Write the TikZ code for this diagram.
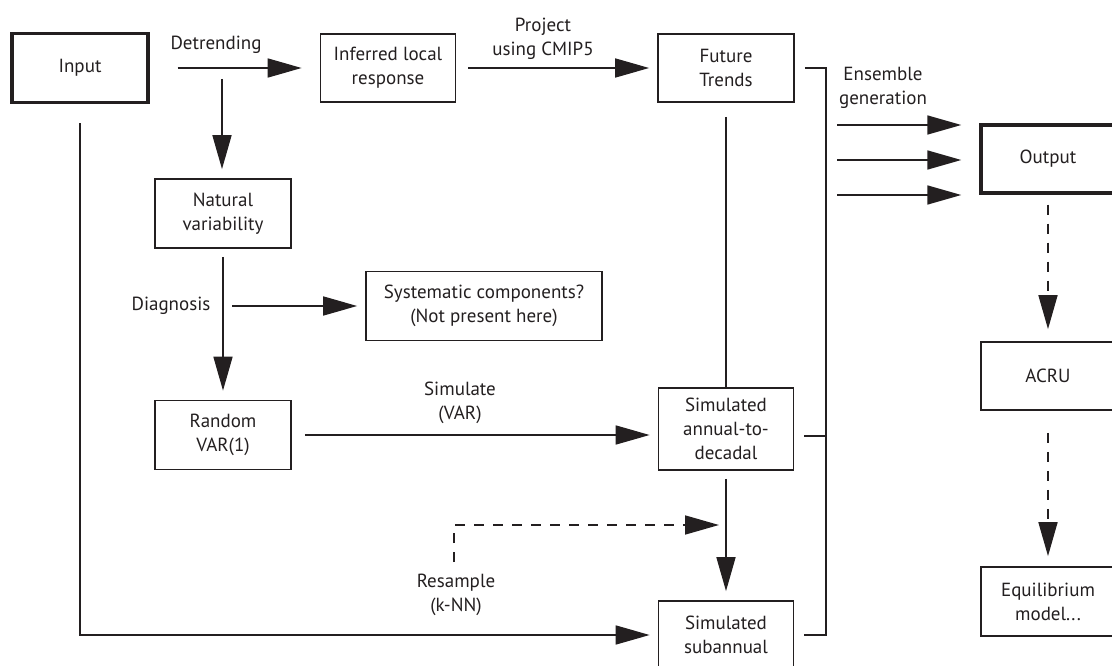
\documentclass[tikz,border=0pt]{standalone}
\usepackage{fontspec}
\setmainfont{PT Sans}
\usetikzlibrary{arrows.meta,calc}
\definecolor{ink}{HTML}{231F20}
\begin{document}
\begin{tikzpicture}[x=1pt,y=-1pt,
  every node/.style={font=\fontsize{19}{24}\selectfont, text=ink},
  box/.style={draw=ink, line width=1.7pt, align=center, inner sep=0pt},
  thickbox/.style={box, line width=3.4pt},
  lbl/.style={align=center, inner sep=0pt},
  plain/.style={draw=ink, line width=1.7pt},
  arr/.style={plain, -{Triangle[length=34pt,width=19pt]}},
  dsh/.style={arr, dash pattern=on 10pt off 9pt}]
\useasboundingbox (0,0) rectangle (1112,666);

% boxes
\node[thickbox, minimum width=136pt, minimum height=69pt] (input) at (80,68) {Input};
\node[box, minimum width=135pt, minimum height=68pt] (inferred) at (388,68) {Inferred local\\response};
\node[box, minimum width=136pt, minimum height=68pt] (future) at (726,68) {Future\\Trends};
\node[box, minimum width=136pt, minimum height=69pt] (natvar) at (223,213.5) {Natural\\variability};
\node[box, minimum width=236pt, minimum height=69pt] (syst) at (484,306) {Systematic components?\\(Not present here)};
\node[box, minimum width=136pt, minimum height=69pt] (random) at (223,435) {Random\\VAR(1)};
\node[box, minimum width=135pt, minimum height=82pt] (annual) at (726,429) {Simulated\\annual-to-\\decadal};
\node[box, minimum width=135pt, minimum height=68pt] (subann) at (726,635) {Simulated\\subannual};
\node[thickbox, minimum width=134pt, minimum height=68pt] (output) at (1048,159) {Output};
\node[box, minimum width=134pt, minimum height=68pt] (acru) at (1048,376) {ACRU};
\node[box, minimum width=134pt, minimum height=69pt] (equil) at (1048,601.5) {Equilibrium\\model...};

% labels
\node[lbl] (lDet) at (216,45) {Detrending};
\node[lbl] (lProj) at (543,39) {Project\\using CMIP5};
\node[lbl] (lDiag) at (171,306) {Diagnosis};
\node[lbl] (lSim) at (460,403) {Simulate\\(VAR)};
\node[lbl] (lRes) at (456,595) {Resample\\(k-NN)};
\node[lbl] (lEns) at (883,88) {Ensemble\\generation};

% free ends
\coordinate (dtop) at (222,79);
\coordinate (diag) at (232,306);
\coordinate (rs) at (454,562);
\coordinate (rc) at (454,525);
\coordinate (rt) at (719,525);
\coordinate (e1) at (837,125);
\coordinate (e2) at (837,160);
\coordinate (e3) at (837,195);

% connectors
\draw[arr, shorten <=28pt, shorten >=18pt] (input) -- (inferred);
\draw[arr, shorten >=9pt] (dtop) -- (dtop |- natvar.north);
\draw[arr, shorten <=12pt, shorten >=8pt] (inferred) -- (future);
\draw[arr, shorten <=8pt, shorten >=9pt] (natvar) -- (random);
\draw[arr, shorten >=8pt] (diag) -- (diag -| syst.west);
\draw[arr, shorten <=13pt, shorten >=8pt] (random) -- (annual.west |- random);
\draw[plain, shorten <=14pt] (future) -- (annual);
\draw[arr, shorten <=8pt, shorten >=9pt] (annual) -- (subann);
\draw[dsh] (rs) -- (rc) -- (rt);
\draw[arr, shorten <=19pt, shorten >=8pt] (input) |- (subann);

% bracket
\draw[plain] ([xshift=10pt]future.east) -- ++(21,0) |- ([xshift=10pt]subann.east);
\draw[plain] ([xshift=10pt,yshift=-7pt]annual.east) -- ++(21,0);

% ensemble arrows
\draw[arr, shorten >=18pt] (e1) -- (e1 -| output.west);
\draw[arr, shorten >=18pt] (e2) -- (e2 -| output.west);
\draw[arr, shorten >=18pt] (e3) -- (e3 -| output.west);

% dashed chain
\draw[dsh, shorten <=10pt, shorten >=12pt] (output) -- (acru);
\draw[dsh, shorten <=22pt, shorten >=10pt] (acru) -- (equil);
\end{tikzpicture}
\end{document}
